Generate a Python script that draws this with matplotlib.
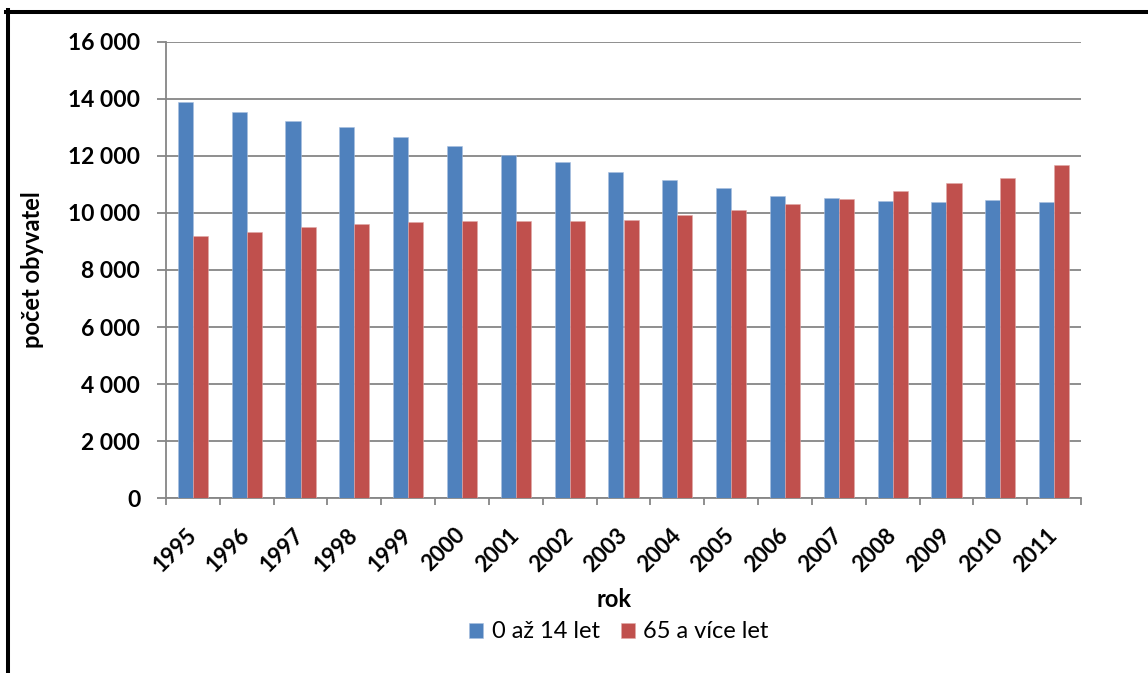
import matplotlib
matplotlib.use("Agg")
import matplotlib.pyplot as plt
from matplotlib.lines import Line2D
from matplotlib.ticker import FuncFormatter, FixedLocator
import numpy as np

years = ["1995", "1996", "1997", "1998", "1999", "2000", "2001", "2002", "2003",
         "2004", "2005", "2006", "2007", "2008", "2009", "2010", "2011"]
children = [13880, 13545, 13230, 13010, 12660, 12335, 12030, 11770, 11420,
            11165, 10860, 10595, 10530, 10415, 10380, 10440, 10375]
seniors = [9190, 9330, 9505, 9600, 9680, 9720, 9705, 9725, 9760,
           9915, 10090, 10320, 10487, 10765, 11045, 11220, 11675]
series_names = ["0 až 14 let", "65 a více let"]
ylabel = "počet obyvatel"
xlabel = "rok"

BLUE = "#4F81BD"
RED = "#C0504D"
GREY = "#868686"
FONT = "Lato"

W, H = 1148, 673
fig = plt.figure(figsize=(W / 100, H / 100), dpi=100)
ax = fig.add_axes([166 / W, 1 - 498.4 / H, (1081 - 166) / W, (498.4 - 41.6) / H])

x = np.arange(len(years))
bw = 0.28
ax.bar(x - bw / 2, children, width=bw, color=BLUE, label=series_names[0], zorder=3,
       edgecolor="#a9c0e0", linewidth=0.4)
ax.bar(x + bw / 2, seniors, width=bw, color=RED, label=series_names[1], zorder=3,
       edgecolor="#e0a9a8", linewidth=0.4)

ax.set_xlim(-0.5, len(years) - 0.5)
ax.set_ylim(0, 16000)
ax.set_yticks(np.arange(0, 16001, 2000))
ax.yaxis.set_major_formatter(FuncFormatter(lambda v, p: f"{int(v):,}".replace(",", " ")))
ax.grid(axis="y", color=GREY, linewidth=1.3, zorder=0)
ax.set_axisbelow(True)

for s in ["top", "right"]:
    ax.spines[s].set_visible(False)
for s in ["left", "bottom"]:
    ax.spines[s].set_color(GREY)
    ax.spines[s].set_linewidth(1.3)

ax.tick_params(axis="y", length=6.5, width=1.3, color=GREY, pad=12,
               labelsize=16.5)
for lbl in ax.get_yticklabels():
    lbl.set_fontweight("bold")
    lbl.set_fontfamily(FONT)

ax.set_xticks(x)
ax.set_xticklabels(years)
ax.xaxis.set_minor_locator(FixedLocator(np.arange(-0.5, len(years), 1.0)))
ax.tick_params(axis="x", which="major", length=0, pad=24, labelsize=16)
ax.tick_params(axis="x", which="minor", length=5, width=1.3, color=GREY)
for lbl in ax.get_xticklabels():
    lbl.set_rotation(45)
    lbl.set_ha("right")
    lbl.set_va("center")
    lbl.set_rotation_mode("anchor")
    lbl.set_fontweight("bold")
    lbl.set_fontfamily(FONT)

fig.text(33 / W, 1 - 270 / H, ylabel, rotation=90, ha="center", va="center",
         fontsize=17, fontweight="bold", family=FONT)
fig.text(614 / W, 1 - 607 / H, xlabel, ha="center", va="baseline",
         fontsize=17, fontweight="bold", family=FONT)

leg = fig.legend(loc="center", bbox_to_anchor=(619 / W, 1 - 632 / H), ncol=2,
                 frameon=False, prop={"family": FONT, "size": 17},
                 handlelength=0.6, handleheight=0.6, handletextpad=0.35,
                 columnspacing=0.9, borderpad=0, borderaxespad=0)

fig.add_artist(Line2D([6.3 / W, 1], [1 - 12 / H, 1 - 12 / H], color="black",
                      linewidth=2.9, transform=fig.transFigure))
fig.add_artist(Line2D([8.3 / W, 8.3 / W], [0, 1 - 10 / H], color="black",
                      linewidth=2.9, transform=fig.transFigure))

fig.savefig("out.png", dpi=100)
